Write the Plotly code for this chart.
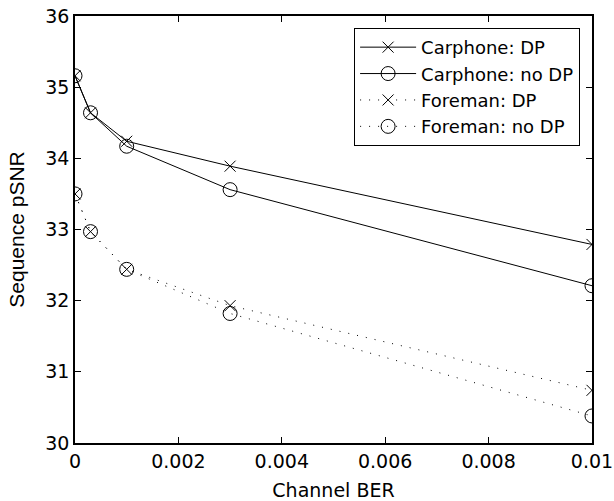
import plotly.graph_objects as go

ber = [0, 0.0003, 0.001, 0.003, 0.01]
carphone_dp = [35.16, 34.64, 34.24, 33.89, 32.79]
carphone_nodp = [35.16, 34.64, 34.17, 33.56, 32.21]
foreman_dp = [33.50, 32.97, 32.44, 31.93, 30.74]
foreman_nodp = [33.50, 32.97, 32.44, 31.82, 30.38]

names = ["Carphone: DP", "Carphone: no DP", "Foreman: DP", "Foreman: no DP"]
series = [carphone_dp, carphone_nodp, foreman_dp, foreman_nodp]
symbols = ["x-thin-open", "circle-open", "x-thin-open", "circle-open"]
dashes = ["solid", "solid", "1px,8px", "1px,8px"]
sizes = [11, 14, 11, 14]

FONT = "DejaVu Sans, Liberation Sans, Arial, sans-serif"

fig = go.Figure()
for n, s, sym, d, sz in zip(names, series, symbols, dashes, sizes):
    fig.add_trace(go.Scatter(
        x=ber, y=s, name=n, mode="lines+markers",
        line=dict(color="black", width=1, dash=d),
        marker=dict(symbol=sym, size=sz, color="black",
                    line=dict(color="black", width=1)),
    ))

axis_common = dict(showline=True, linecolor="black", linewidth=1.5,
                   mirror="allticks", ticks="inside", ticklen=6,
                   tickcolor="black", showgrid=False, zeroline=False,
                   automargin=False, ticklabeloverflow="allow",
                   tickfont=dict(size=19, color="black", family=FONT))
fig.update_xaxes(range=[0, 0.01], tickvals=[0, 0.002, 0.004, 0.006, 0.008, 0.01],
                 ticktext=["0", "0.002", "0.004", "0.006", "0.008", "0.01"],
                 title=dict(text="Channel BER", font=dict(size=19, color="black", family=FONT)),
                 **axis_common)
fig.update_yaxes(range=[30, 36], dtick=1,
                 title=dict(text="Sequence pSNR",
                            font=dict(size=21, color="black",
                                      family="Liberation Sans, Arial, sans-serif")),
                 **axis_common)
fig.update_layout(
    width=614, height=501,
    margin=dict(l=75, r=22, t=16, b=58),
    plot_bgcolor="white", paper_bgcolor="white",
    font=dict(family=FONT, size=19, color="black"),
    legend=dict(x=0.977, y=0.972, xanchor="right", yanchor="top",
                bgcolor="white", bordercolor="black", borderwidth=1,
                font=dict(size=18, family=FONT), tracegroupgap=0, itemwidth=56),
    showlegend=True,
)
fig.write_html("out.html", config={"displayModeBar": False},
               post_script="document.body.style.margin='0';document.body.style.overflow='hidden';")
